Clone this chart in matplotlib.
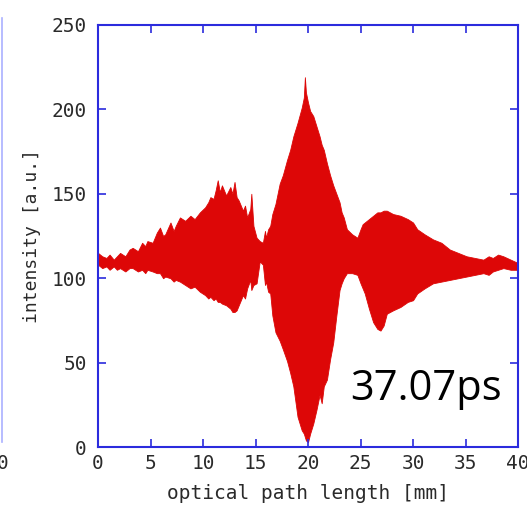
import matplotlib.pyplot as plt
from matplotlib.lines import Line2D

# envelope of the interferogram (x in mm, intensity a.u.)
path_mm = [0.0, 0.4, 0.8, 1.1, 1.5, 1.8, 2.1, 2.6, 3.0, 3.3, 3.8, 4.2, 4.5, 4.7, 5.2,
           5.6, 5.9, 6.2, 6.4, 6.9, 7.2, 7.4, 7.8, 8.3, 8.8, 9.2, 9.7, 10.2, 10.5,
           10.7, 11.0, 11.2, 11.4, 11.6, 11.8, 12.2, 12.6, 12.8, 13.0, 13.2, 13.4,
           13.8, 14.0, 14.2, 14.5, 14.6, 14.8, 15.1, 15.4, 15.7, 15.9, 16.0, 16.2,
           16.4, 16.6, 16.9, 17.3, 17.6, 18.0, 18.3, 18.6, 19.0, 19.4, 19.6, 19.7,
           19.8, 20.0, 20.2, 20.5, 20.8, 21.1, 21.3, 21.5, 21.8, 22.1, 22.4, 22.7,
           23.0, 23.2, 23.4, 23.7, 24.2, 24.7, 25.0, 25.2, 25.4, 25.8, 26.2, 26.6,
           26.9, 27.2, 27.5, 28.1, 28.8, 29.5, 30.0, 30.4, 31.1, 31.9, 32.7, 33.5,
           34.3, 35.1, 35.9, 36.7, 37.2, 37.6, 38.1, 38.6, 39.3, 40.0]
upper = [115, 113, 112, 114, 111, 113, 115, 113, 117, 118, 116, 121, 119, 122, 121,
         127, 130, 125, 126, 133, 128, 131, 136, 134, 137, 135, 139, 142, 145,
         148, 147, 152, 158, 151, 155, 149, 154, 150, 157, 148, 146,
         140, 143, 136, 141, 150, 131, 124, 122, 121, 128, 124, 129,
         131, 138, 144, 156, 161, 170, 176, 184, 192, 201, 207, 219,
         210, 204, 199, 196, 190, 184, 179, 176, 168, 161, 155, 150,
         145, 139, 136, 129, 126, 124, 129, 132, 133, 135, 137, 139,
         139, 140, 140, 138, 137, 135, 133, 129, 126, 123, 121, 117,
         115, 113, 112, 111, 113, 112, 114, 113, 111, 109]
lower = [108, 106, 107, 105, 107, 105, 106, 104, 106, 106, 104, 105, 103, 105, 104,
         103, 103, 100, 101, 100, 98, 99, 98, 96, 94, 95, 92, 90, 88,
         89, 87, 88, 86, 86, 85, 84, 82, 80, 80, 81, 84,
         90, 88, 94, 99, 93, 96, 97, 110, 108, 96, 98, 92,
         91, 78, 68, 63, 58, 51, 44, 36, 18, 10, 8, 6,
         4, 3, 8, 14, 22, 31, 26, 36, 40, 52, 62, 78,
         93, 97, 100, 103, 103, 102, 97, 94, 91, 82, 74, 70,
         69, 72, 79, 81, 83, 86, 87, 91, 94, 97, 98, 99,
         100, 101, 102, 103, 102, 104, 105, 106, 105, 105]

y_ticks = [0, 50, 100, 150, 200, 250]
x_ticks = [0, 5, 10, 15, 20, 25, 30, 35, 40]

red = '#dd0707'
blue = '#2b2bdd'
txt = '#2a2a2a'
lab_font = 'DejaVu Sans Mono'

fig = plt.figure(figsize=(5.27, 5.07), dpi=100)
ax = fig.add_axes([0.186, 0.118, 0.797, 0.833])

ax.fill_between(path_mm, lower, upper, color=red, linewidth=0.6, edgecolor=red)

ax.set_xlim(0, 40)
ax.set_ylim(0, 250)
ax.set_xticks(x_ticks)
ax.set_yticks(y_ticks)
ax.tick_params(direction='in', length=6, width=1.2, color=blue,
               top=True, right=True, labelsize=14, labelcolor=txt)
ax.tick_params(axis='y', pad=8)
ax.tick_params(axis='x', pad=5)
for lab in ax.get_xticklabels() + ax.get_yticklabels():
    lab.set_family(lab_font)
for s in ax.spines.values():
    s.set_color(blue)
    s.set_linewidth(1.5)

ax.set_xlabel('optical path length [mm]', fontsize=14, family=lab_font,
              color=txt, labelpad=8)
ax.set_ylabel('intensity [a.u.]', fontsize=13, family=lab_font,
              color=txt, labelpad=8)

ax.text(24.0, 28, '37.07ps', fontsize=30, family='Open Sans', color='black')

# edge of the neighbouring panel
fig.add_artist(Line2D([0.003, 0.003], [0.128, 0.965], color='#aab0ff', lw=1.2,
                      transform=fig.transFigure))
fig.text(-0.006, 0.074, '0', fontsize=14, family=lab_font, color=txt)

fig.savefig('out.png', dpi=100)
